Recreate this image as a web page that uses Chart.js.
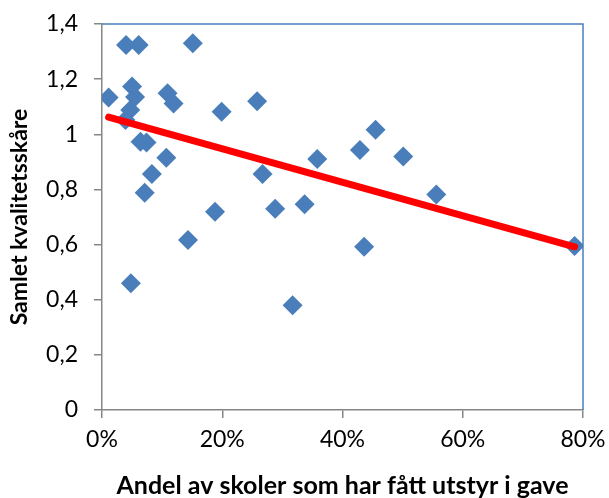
<!DOCTYPE html>
<html>
<head>
<meta charset="utf-8">
<script src="https://cdn.jsdelivr.net/npm/chart.js@4/dist/chart.umd.min.js"></script>
<style>
html,body{margin:0;padding:0;background:#fff;}
#wrap{width:609px;height:498px;}
</style>
</head>
<body>
<div id="wrap"><canvas id="c" width="609" height="498"></canvas></div>
<script>
// Data
const shareGift = [1.1, 4.0, 6.1, 15.1, 5.0, 5.5, 4.7, 3.9, 10.9, 11.9, 19.9, 25.8, 6.4, 7.4, 10.7, 8.3, 7.1, 18.8, 14.3, 4.8, 45.5, 42.9, 50.1, 35.8, 26.7, 55.6, 28.8, 33.7, 43.6, 31.7, 78.6];
const qualityScore = [1.133, 1.324, 1.324, 1.330, 1.173, 1.135, 1.088, 1.052, 1.149, 1.112, 1.082, 1.120, 0.973, 0.970, 0.915, 0.856, 0.788, 0.719, 0.617, 0.460, 1.016, 0.943, 0.919, 0.910, 0.856, 0.782, 0.730, 0.746, 0.592, 0.380, 0.595];
const trendX = [1.1, 78.6];
const trendY = [1.062, 0.592];
const xTickValues = [0, 20, 40, 60, 80];
const xTickLabels = ['0%', '20%', '40%', '60%', '80%'];
const yTickValues = [0, 0.2, 0.4, 0.6, 0.8, 1, 1.2, 1.4];
const yTickLabels = ['0', '0,2', '0,4', '0,6', '0,8', '1', '1,2', '1,4'];
const xTitle = 'Andel av skoler som har fått utstyr i gave';
const yTitle = 'Samlet kvalitetsskåre';

const points = shareGift.map((x, i) => ({x: x, y: qualityScore[i]}));
const trend = trendX.map((x, i) => ({x: x, y: trendY[i]}));

const FONT = 'Lato, "Open Sans", sans-serif';
const AXIS_GRAY = '#868686';
const BLUE = '#4A7EBB';

const borderPlugin = {
  id: 'plotBorder',
  beforeDatasetsDraw(chart) {
    const {ctx, chartArea: a} = chart;
    ctx.save();
    ctx.strokeStyle = BLUE;
    ctx.lineWidth = 1.5;
    ctx.beginPath();
    ctx.moveTo(a.left, a.top);
    ctx.lineTo(a.right, a.top);
    ctx.lineTo(a.right, a.bottom);
    ctx.stroke();
    ctx.restore();
  }
};

new Chart(document.getElementById('c'), {
  type: 'scatter',
  data: {
    datasets: [
      {
        type: 'line',
        label: 'Trend',
        data: trend,
        borderColor: '#FF0000',
        borderWidth: 7,
        borderCapStyle: 'round',
        pointRadius: 0,
        fill: false,
        order: 0
      },
      {
        label: 'Skoler',
        data: points,
        pointStyle: 'rectRot',
        pointRadius: 10,
        pointHoverRadius: 10,
        backgroundColor: BLUE,
        borderColor: BLUE,
        borderWidth: 0,
        order: 1
      }
    ]
  },
  options: {
    responsive: false,
    animation: false,
    devicePixelRatio: 1,
    layout: {padding: {top: 24, right: 26, left: 0, bottom: 0}},
    plugins: {legend: {display: false}, tooltip: {enabled: false}},
    scales: {
      x: {
        type: 'linear',
        min: 0, max: 80,
        afterFit(s) { s.height = 88; s.paddingRight = 0; s.paddingLeft = 0; },
        afterBuildTicks(s) { s.ticks = xTickValues.map(v => ({value: v})); },
        ticks: {
          callback: (v) => xTickLabels[xTickValues.indexOf(v)],
          color: '#000',
          font: {family: FONT, size: 23},
          padding: 8,
          maxRotation: 0,
          autoSkip: false
        },
        grid: {display: true, drawOnChartArea: false, drawTicks: true, tickLength: 8, color: AXIS_GRAY, lineWidth: 1.5},
        border: {display: true, color: AXIS_GRAY, width: 1.5},
        title: {display: true, text: xTitle, color: '#000', font: {family: FONT, size: 25, weight: 'bold', lineHeight: 1}, padding: {top: 0, bottom: 0}}
      },
      y: {
        type: 'linear',
        min: 0, max: 1.4,
        afterFit(s) { s.width = 102; s.paddingTop = 0; s.paddingBottom = 0; },
        afterBuildTicks(s) { s.ticks = yTickValues.map(v => ({value: v})); },
        ticks: {
          callback: (v) => yTickLabels[yTickValues.findIndex(t => Math.abs(t - v) < 1e-6)],
          color: '#000',
          font: {family: FONT, size: 23},
          padding: 16,
          autoSkip: false
        },
        grid: {display: true, drawOnChartArea: false, drawTicks: true, tickLength: 8, color: AXIS_GRAY, lineWidth: 1.5},
        border: {display: true, color: AXIS_GRAY, width: 1.5},
        title: {display: true, text: yTitle, color: '#000', font: {family: FONT, size: 23, weight: 'bold', lineHeight: 1}, padding: {top: 8, bottom: 0}}
      }
    }
  },
  plugins: [borderPlugin]
});
</script>
</body>
</html>
